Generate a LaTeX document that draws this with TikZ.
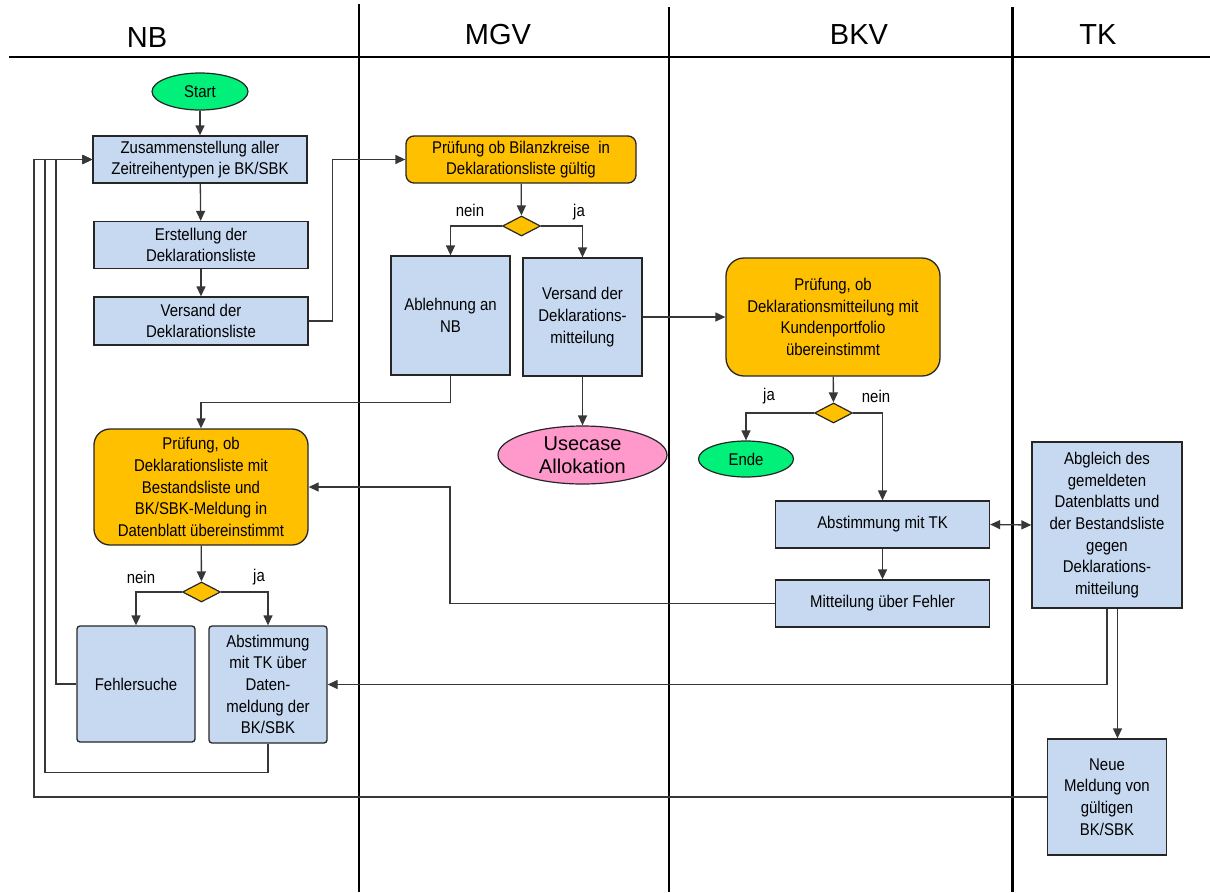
\documentclass[tikz,border=0pt]{standalone}
\usepackage{fontspec}
\setmainfont{Liberation Sans}
\newfontfamily\narrowfont{Liberation Sans}[FakeStretch=0.88]
\usetikzlibrary{shapes.geometric,arrows.meta}

\definecolor{boxblue}{RGB}{198,217,240}
\definecolor{checkorange}{RGB}{255,192,0}
\definecolor{startgreen}{RGB}{0,240,122}
\definecolor{usepink}{RGB}{255,153,204}
\definecolor{linegray}{RGB}{55,55,55}

\tikzset{
  lane/.style={line width=2.4pt, black},
  lanehead/.style={font=\fontsize{29}{34}\selectfont, inner sep=0pt},
  taskbox/.style={draw=black!85, line width=1.3pt, fill=boxblue, inner sep=0pt, align=center,
    font=\narrowfont\fontsize{17}{21.7}\selectfont},
  checkbox/.style={taskbox, fill=checkorange, rounded corners=16pt},
  decision/.style={diamond, draw=black!85, line width=1.2pt, fill=checkorange, inner sep=0pt,
    minimum width=38pt, minimum height=20pt},
  endpoint/.style={ellipse, draw=black!85, line width=1.2pt, fill=startgreen, inner sep=0pt,
    font=\narrowfont\fontsize{17}{21}\selectfont},
  branchlabel/.style={font=\narrowfont\fontsize{17}{21}\selectfont, inner sep=0pt},
  flowline/.style={draw=linegray, line width=1.3pt, -{Triangle[length=10pt,width=9pt]}}
}

\begin{document}
\begin{tikzpicture}[x=1pt,y=1pt,yscale=-1,xscale=1]
\useasboundingbox (0,0) rectangle (1210,892);

%Lines: swimlanes
\draw [lane] (9,57) -- (1210,57);
\draw [lane] (359,4) -- (359,892);
\draw [lane] (669,7) -- (669,892);
\draw [lane] (1012.5,7) -- (1012.5,892);

% Text Node: lane titles
\node [lanehead] (laneNB) at (147,38) {NB};
\node [lanehead] (laneMGV) at (498,35) {MGV};
\node [lanehead] (laneBKV) at (859,35) {BKV};
\node [lanehead] (laneTK) at (1098,35) {TK};

%Shape: NB lane
\node [endpoint, minimum width=96pt, minimum height=37pt] (start) at (200,91.5) {Start};
\node [taskbox, minimum width=214pt, minimum height=47pt] (zus) at (200,159.5) {Zusammenstellung aller\\Zeitreihentypen je BK/SBK};
\node [taskbox, minimum width=214pt, minimum height=47pt] (erst) at (201,245) {Erstellung der\\Deklarationsliste};
\node [taskbox, minimum width=214pt, minimum height=48pt] (vdl) at (201,321) {Versand der\\Deklarationsliste};
\node [checkbox, minimum width=214pt, minimum height=116pt] (pnb) at (201,487) {Prüfung, ob\\Deklarationsliste mit\\Bestandsliste und\\BK/SBK-Meldung in\\Datenblatt übereinstimmt};
\node [decision] (dnb) at (201.5,592) {};
\node [taskbox, rounded corners=3pt, minimum width=118pt, minimum height=116pt] (fs) at (136,684) {Fehlersuche};
\node [taskbox, rounded corners=3pt, minimum width=118pt, minimum height=117pt] (anb) at (268,684.5) {Abstimmung\\mit TK über\\Daten-\\meldung der\\BK/SBK};

%Shape: MGV lane
\node [checkbox, rounded corners=8pt, minimum width=230pt, minimum height=47pt] (pmgv) at (521,159.5) {Prüfung ob Bilanzkreise~ in\\Deklarationsliste gültig};
\node [decision] (dmgv) at (521.5,226) {};
\node [taskbox, minimum width=119pt, minimum height=119pt] (abl) at (450.5,315.5) {Ablehnung an\\NB};
\node [taskbox, minimum width=119pt, minimum height=118pt] (vmit) at (582.5,317) {Versand der\\Deklarations-\\mitteilung};
\node [endpoint, fill=usepink, minimum width=169pt, minimum height=58pt, align=center,
  font=\fontsize{20}{23}\selectfont] (usecase) at (582.5,455) {Usecase\\Allokation};

%Shape: BKV lane
\node [checkbox, rounded corners=18pt, minimum width=214pt, minimum height=118pt] (pbkv) at (833,317) {Prüfung, ob\\Deklarationsmitteilung mit\\Kundenportfolio\\übereinstimmt};
\node [decision] (dbkv) at (833.5,413) {};
\node [endpoint, minimum width=95pt, minimum height=36pt] (ende) at (746,459) {Ende};
\node [taskbox, minimum width=214pt, minimum height=47pt] (atk) at (882.5,524.5) {Abstimmung mit TK};
\node [taskbox, minimum width=214pt, minimum height=47pt] (mf) at (882.5,603.5) {Mitteilung über Fehler};

%Shape: TK lane
\node [taskbox, minimum width=150pt, minimum height=166pt] (abg) at (1107,525) {Abgleich des\\gemeldeten\\Datenblatts und\\der Bestandsliste\\gegen\\Deklarations-\\mitteilung};
\node [taskbox, minimum width=119pt, minimum height=116pt] (neu) at (1107,797) {Neue\\Meldung von\\gültigen\\BK/SBK};

% Text Node: branch labels
\node [branchlabel] (lmgvn) at (470,210) {nein};
\node [branchlabel] (lmgvj) at (579,212) {ja};
\node [branchlabel] (lbkvj) at (769,396) {ja};
\node [branchlabel] (lbkvn) at (876,396) {nein};
\node [branchlabel] (lnbn) at (141,577) {nein};
\node [branchlabel] (lnbj) at (259,577) {ja};

% feedback rails into Zusammenstellung
\coordinate (railA) at (34,159.5);
\coordinate (railB) at (45,159.5);
\coordinate (railC) at (56,159.5);

%Lines: connectors
\draw [flowline] (start) -- (zus);
\draw [flowline] (zus) -- (erst);
\draw [flowline] (erst) -- (vdl);
\draw [flowline] (vdl.east) -- ++(24,0) |- (pmgv.west);
\draw [flowline] (pmgv) -- (dmgv);
\draw [flowline] (dmgv.west) -| (abl.north);
\draw [flowline] (dmgv.east) -| (vmit.north);
\draw [flowline] (abl.south) -- ++(0,27) -| (pnb.north);
\draw [flowline] (vmit) -- (usecase);
\draw [flowline] (vmit.east) -- (pbkv.west);
\draw [flowline] (pbkv) -- (dbkv);
\draw [flowline] (dbkv.west) -| (ende.north);
\draw [flowline] (dbkv.east) -| (atk.north);
\draw [flowline] (atk) -- (mf);
\draw [flowline, {Triangle[length=10pt,width=9pt]}-{Triangle[length=10pt,width=9pt]}] (atk.east) -- (abg.west);
\draw [flowline] (mf.west) -- ++(-325,0) |- (pnb.east);
\draw [flowline] (pnb) -- (dnb);
\draw [flowline] (dnb.west) -| (fs.north);
\draw [flowline] (dnb.east) -| (anb.north);
\draw [flowline] (abg.south) |- (anb.east);
\draw [flowline] ([xshift=10.5pt]abg.south) -- ([xshift=10.5pt]neu.north);
\draw [flowline] (fs.west) -| (railC) -- (zus.west);
\draw [flowline] (anb.south) -- ++(0,29) -| (railB) -- (zus.west);
\draw [flowline] (neu.west) -| (railA) -- (zus.west);

\end{tikzpicture}
\end{document}
